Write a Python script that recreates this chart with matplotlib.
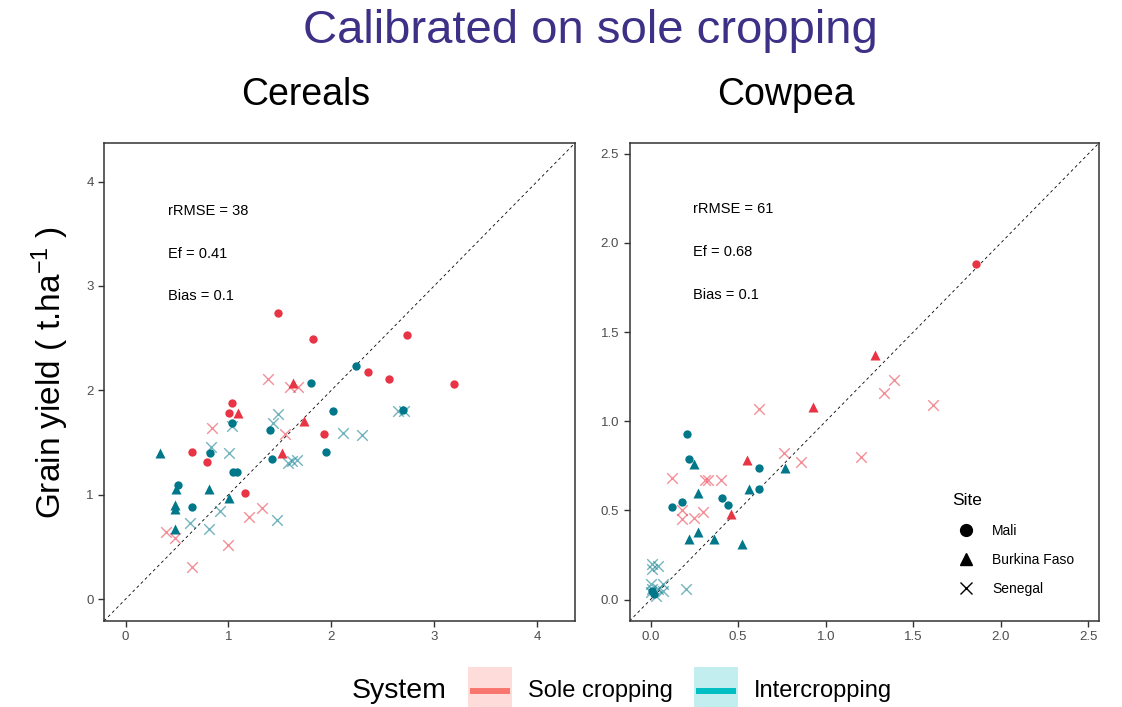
import matplotlib
matplotlib.use("Agg")
import matplotlib.pyplot as plt
from matplotlib.lines import Line2D
from matplotlib.patches import Rectangle

plt.rcParams['font.family'] = ['Liberation Sans', 'DejaVu Sans']
plt.rcParams['mathtext.fontset'] = 'custom'
plt.rcParams['mathtext.rm'] = 'Liberation Sans'
plt.rcParams['mathtext.it'] = 'Liberation Sans:italic'

# (observed, simulated) grain yield, t/ha
cereal_sole_mali = [(1.48, 2.74), (1.82, 2.49), (1.03, 1.88), (1.01, 1.78), (1.93, 1.58),
                    (0.65, 1.41), (0.79, 1.31), (1.16, 1.02), (2.74, 2.53), (2.36, 2.18),
                    (2.56, 2.11), (3.19, 2.06)]
cereal_sole_bf = [(1.63, 2.07), (1.09, 1.78), (1.73, 1.71), (1.52, 1.40)]
cereal_sole_sen = [(1.38, 2.11), (1.60, 2.03), (1.68, 2.03), (0.84, 1.64), (1.55, 1.58),
                   (1.33, 0.87), (1.20, 0.79), (0.39, 0.64), (0.48, 0.59), (1.00, 0.52),
                   (0.65, 0.31)]
cereal_ic_mali = [(1.80, 2.07), (1.03, 1.69), (1.40, 1.62), (2.02, 1.80), (0.82, 1.40),
                  (1.95, 1.41), (1.04, 1.22), (1.08, 1.22), (0.51, 1.09), (0.65, 0.88),
                  (1.42, 1.34), (2.24, 2.23), (2.70, 1.81)]
cereal_ic_bf = [(0.33, 1.40), (0.49, 1.05), (0.81, 1.05), (1.01, 0.97), (0.48, 0.90),
                (0.48, 0.86), (0.48, 0.67)]
cereal_ic_sen = [(1.03, 1.66), (1.48, 1.77), (1.43, 1.69), (0.83, 1.46), (1.01, 1.40),
                 (0.92, 0.84), (1.47, 0.76), (0.63, 0.73), (0.81, 0.67), (1.58, 1.30),
                 (1.62, 1.32), (1.67, 1.33), (2.65, 1.80), (2.71, 1.80), (2.11, 1.59),
                 (2.30, 1.57)]

cowpea_sole_mali = [(1.86, 1.88)]
cowpea_sole_bf = [(1.28, 1.37), (0.93, 1.08), (0.55, 0.78), (0.46, 0.48)]
cowpea_sole_sen = [(0.62, 1.07), (1.39, 1.23), (1.33, 1.16), (1.61, 1.09), (1.20, 0.80),
                   (0.76, 0.82), (0.86, 0.77), (0.12, 0.68), (0.31, 0.67), (0.33, 0.67),
                   (0.40, 0.67), (0.18, 0.50), (0.18, 0.45), (0.25, 0.46), (0.30, 0.49)]
cowpea_ic_mali = [(0.21, 0.93), (0.22, 0.79), (0.62, 0.74), (0.62, 0.62), (0.18, 0.55),
                  (0.12, 0.52), (0.41, 0.57), (0.44, 0.53), (0.01, 0.05), (0.02, 0.03)]
cowpea_ic_bf = [(0.25, 0.76), (0.77, 0.74), (0.27, 0.60), (0.56, 0.62), (0.22, 0.34),
                (0.27, 0.38), (0.36, 0.34), (0.52, 0.31)]
cowpea_ic_sen = [(0.01, 0.20), (0.04, 0.19), (0.01, 0.17), (0.20, 0.06), (0.00, 0.09),
                 (0.07, 0.09), (0.01, 0.06), (0.07, 0.05), (0.00, 0.04), (0.04, 0.06),
                 (0.03, 0.02)]

cereal_stats = ["rRMSE = 38", "Ef = 0.41", "Bias = 0.1"]
cowpea_stats = ["rRMSE = 61", "Ef = 0.68", "Bias = 0.1"]

RED = "#E83444"
TEAL = "#00788A"


def draw_site(ax, pts, marker, color):
    xs = [p[0] for p in pts]
    ys = [p[1] for p in pts]
    if marker == "x":
        ax.scatter(xs, ys, marker="x", s=58, linewidths=1.0, color=color, alpha=0.55, zorder=3)
    elif marker == "^":
        ax.scatter(xs, ys, marker="^", s=52, linewidths=0, color=color, zorder=3)
    else:
        ax.scatter(xs, ys, marker="o", s=36, linewidths=0, color=color, zorder=3)


def style_axes(ax, lim, ticks, labels):
    ax.set_xlim(lim)
    ax.set_ylim(lim)
    ax.set_xticks(ticks)
    ax.set_yticks(ticks)
    ax.set_xticklabels(labels)
    ax.set_yticklabels(labels)
    ax.tick_params(colors="#333333", labelcolor="#4D4D4D", labelsize=9.5, length=4, width=1)
    for s in ax.spines.values():
        s.set_color("#333333")
        s.set_linewidth(1.1)
    ax.axline((0, 0), slope=1, color="black", ls=(0, (3.5, 3.5)), lw=0.6, zorder=2)


fig = plt.figure(figsize=(11.22, 7.07), dpi=100)
ax1 = fig.add_axes([104 / 1122, 86 / 707, 471 / 1122, 478 / 707])
ax2 = fig.add_axes([629.5 / 1122, 86 / 707, 469.5 / 1122, 478 / 707])

for pts, mk in [(cereal_sole_mali, "o"), (cereal_sole_bf, "^"), (cereal_sole_sen, "x")]:
    draw_site(ax1, pts, mk, RED)
for pts, mk in [(cereal_ic_mali, "o"), (cereal_ic_bf, "^"), (cereal_ic_sen, "x")]:
    draw_site(ax1, pts, mk, TEAL)
for pts, mk in [(cowpea_sole_mali, "o"), (cowpea_sole_bf, "^"), (cowpea_sole_sen, "x")]:
    draw_site(ax2, pts, mk, RED)
for pts, mk in [(cowpea_ic_mali, "o"), (cowpea_ic_bf, "^"), (cowpea_ic_sen, "x")]:
    draw_site(ax2, pts, mk, TEAL)

style_axes(ax1, (-0.21, 4.37), [0, 1, 2, 3, 4], ["0", "1", "2", "3", "4"])
style_axes(ax2, (-0.12, 2.56), [0, 0.5, 1, 1.5, 2, 2.5],
           ["0.0", "0.5", "1.0", "1.5", "2.0", "2.5"])

for i, t in enumerate(cereal_stats):
    ax1.text(0.41, 3.72 - 0.41 * i, t, fontsize=10.5, va="center", ha="left")
for i, t in enumerate(cowpea_stats):
    ax2.text(0.24, 2.19 - 0.24 * i, t, fontsize=10.5, va="center", ha="left")

# panel headings sit a little left of the panel centres
fig.text(306 / 1122, 1 - 95 / 707, "Cereals", fontsize=27, ha="center", va="center")
fig.text(786 / 1122, 1 - 95 / 707, "Cowpea", fontsize=27, ha="center", va="center")

fig.text(50 / 1122, 1 - 372 / 707, r"Grain yield ( t.ha$^{-1}$ )", fontsize=24,
         rotation=90, ha="center", va="center")

fig.text(590 / 1122, 1 - 31 / 707, "Calibrated on sole cropping", fontsize=34,
         color="#3C3087", ha="center", va="center")

# site legend (shapes)
site_handles = [
    Line2D([], [], marker="o", ls="", color="black", markersize=8.5, label="Mali"),
    Line2D([], [], marker="^", ls="", color="black", markersize=9, label="Burkina Faso"),
    Line2D([], [], marker="x", ls="", color="black", markersize=9, mew=1.0, label="Senegal"),
]
leg = ax2.legend(handles=site_handles, title="Site", loc="lower left",
                 bbox_to_anchor=(0.66, 0.026), frameon=False, fontsize=10,
                 title_fontsize=12.5, labelspacing=1.1, handletextpad=0.9)
leg._legend_box.align = "left"

# system legend (colour)
fig.text(352 / 1122, 1 - 691 / 707, "System", fontsize=20.5, ha="left", va="center")
legend_items = [("Sole cropping", 468, "#FDDCDA", "#F8766D"),
                ("Intercropping", 694, "#C2EEF0", "#00BFC4")]
for label, x0, fill, line in legend_items:
    fig.add_artist(Rectangle((x0 / 1122, -4 / 707), 44 / 1122, 44 / 707,
                             transform=fig.transFigure, facecolor=fill, edgecolor="none"))
    fig.add_artist(Line2D([(x0 + 2) / 1122, (x0 + 42) / 1122], [1 - 691 / 707, 1 - 691 / 707],
                          transform=fig.transFigure, color=line, lw=4.3, solid_capstyle="butt"))
    fig.text((x0 + 60) / 1122, 1 - 691 / 707, label, fontsize=17, ha="left", va="center")

fig.savefig("out.png", dpi=100)
